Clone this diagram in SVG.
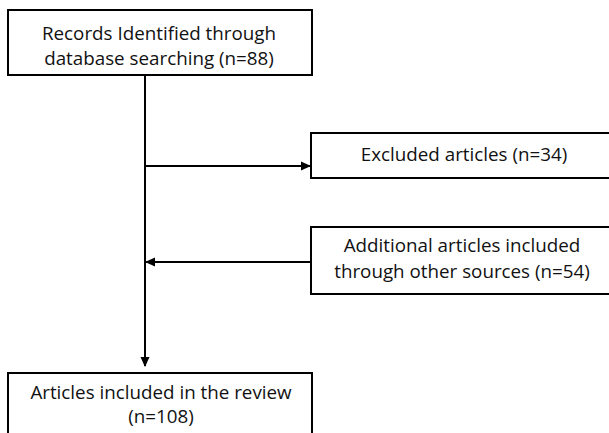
<svg xmlns="http://www.w3.org/2000/svg" width="609" height="433" viewBox="0 0 609 433">
<style>
.box{fill:#fff;stroke:#000;stroke-width:2}
.t{font-family:"Open Sans","Liberation Sans",sans-serif;font-size:18.8px;fill:#111;text-anchor:middle}
.c{stroke:#000;stroke-width:2;fill:none}
</style>
<defs>
<marker id="ah" markerWidth="10" markerHeight="10" refX="9" refY="5" orient="auto" markerUnits="userSpaceOnUse">
<path d="M0,0.5 L10,5 L0,9.5 Z" fill="#000"/>
</marker>
</defs>
<rect width="609" height="433" fill="#fff"/>
<g id="connectors">
<line class="c" x1="145" y1="75" x2="145" y2="366" marker-end="url(#ah)"/>
<line class="c" x1="145" y1="166" x2="310" y2="166" marker-end="url(#ah)"/>
<line class="c" x1="311" y1="262" x2="146" y2="262" marker-end="url(#ah)"/>
</g>
<g id="records">
<rect class="box" x="8" y="10" width="304" height="65"/>
<text class="t" x="159" y="40">Records Identified through</text>
<text class="t" x="159" y="65">database searching (n=88)</text>
</g>
<g id="excluded">
<rect class="box" x="311" y="133" width="310" height="45"/>
<text class="t" x="464" y="161">Excluded articles (n=34)</text>
</g>
<g id="additional">
<rect class="box" x="311" y="227" width="310" height="67"/>
<text class="t" x="462" y="252">Additional articles included</text>
<text class="t" x="462" y="278">through other sources (n=54)</text>
</g>
<g id="included">
<rect class="box" x="8" y="373" width="304" height="80"/>
<text class="t" x="161" y="399">Articles included in the review</text>
<text class="t" x="161" y="423">(n=108)</text>
</g>
</svg>
